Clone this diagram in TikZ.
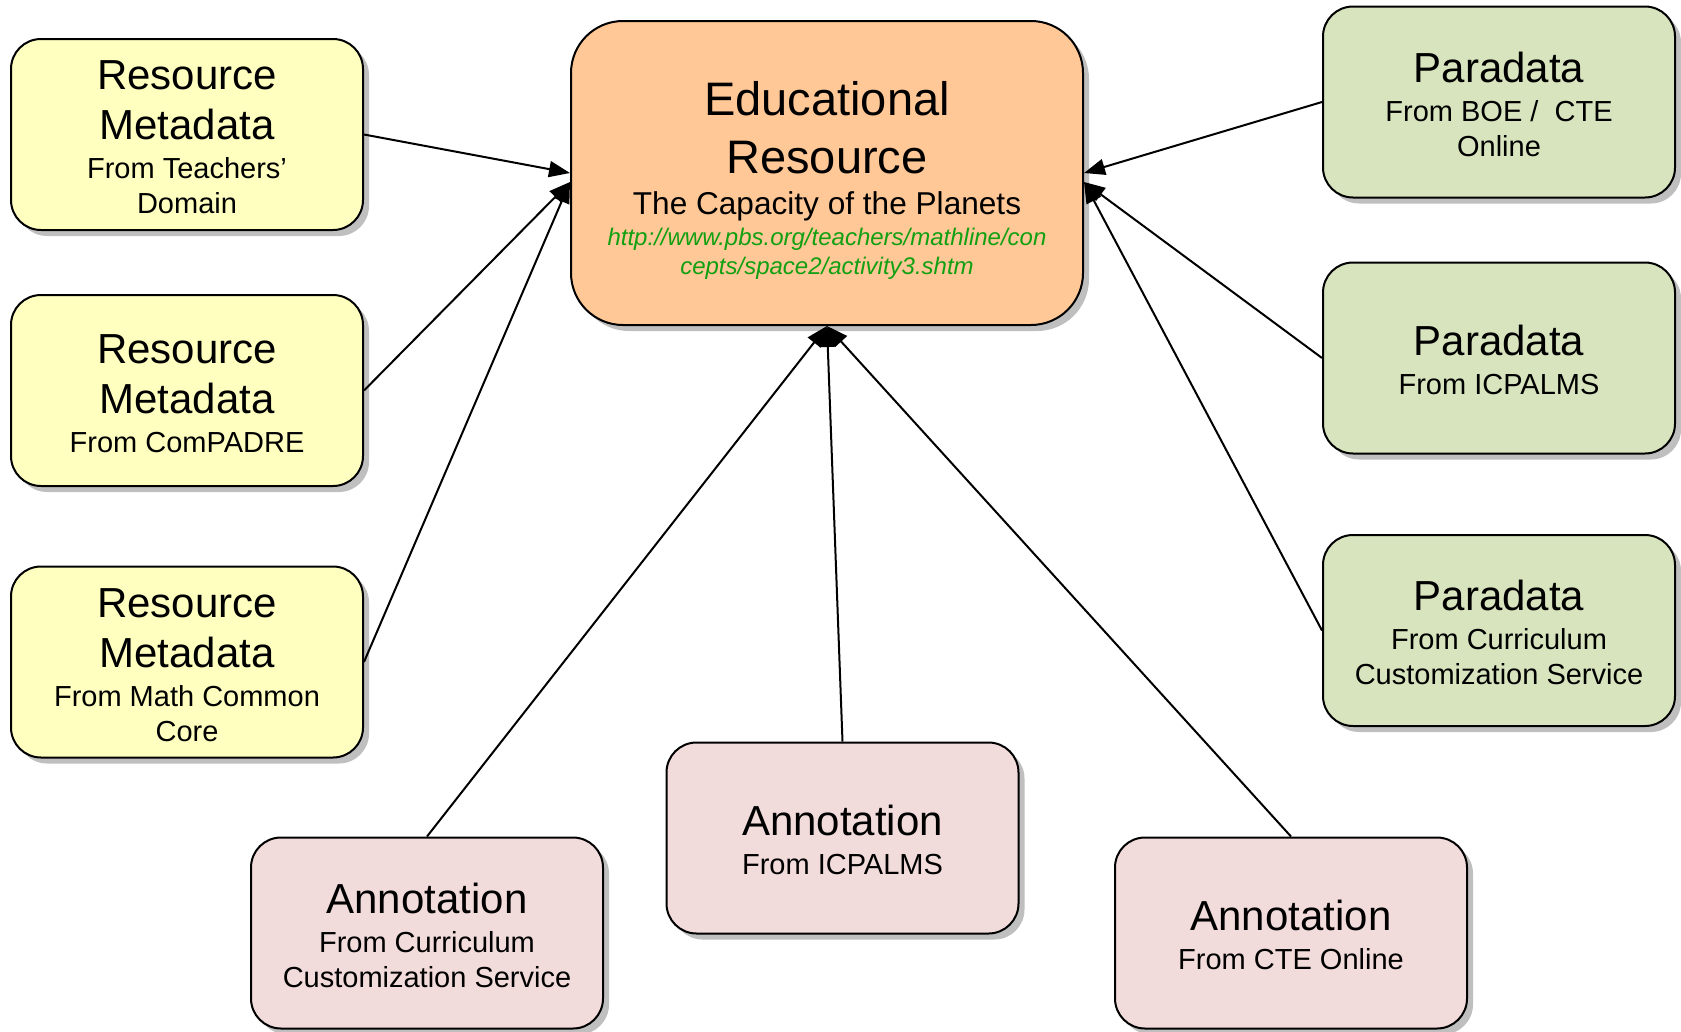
\documentclass[tikz,border=0pt]{standalone}
\usepackage{fontspec}
\setmainfont{Liberation Sans}
\usetikzlibrary{arrows.meta,shadows,calc}
\definecolor{cyel}{HTML}{FFFFC0}
\definecolor{cgreen}{HTML}{D7E4BD}
\definecolor{cpink}{HTML}{F2DCDB}
\definecolor{corange}{HTML}{FFC896}
\definecolor{urlgreen}{HTML}{12A012}
\newcommand\fixsp{\spaceskip=\fontdimen2\font\relax\xspaceskip=\spaceskip\relax}
\newcommand\bigtxt{\fontsize{42}{50}\selectfont\fixsp}
\newcommand\subtxt{\fontsize{29}{35}\selectfont\fixsp}
\newcommand\ttltxt{\fontsize{47}{58}\selectfont\fixsp}
\newcommand\captxt{\fontsize{31.6}{41}\selectfont\fixsp}
\newcommand\urltxt{\fontsize{24}{29}\selectfont\itshape\fixsp\color{urlgreen}}
\newcommand\topgap[1]{\par\vspace*{#1}}
\begin{document}
\begin{tikzpicture}[x=1pt,y=-1pt,
  box/.style={draw=black, line width=2pt, rounded corners=30pt,
    minimum width=352pt, minimum height=191pt, text width=340pt, inner sep=6pt,
    align=center,
    drop shadow={shadow xshift=6pt, shadow yshift=-6pt, fill=black!25, opacity=1}},
  yelbox/.style={box, fill=cyel},
  grnbox/.style={box, fill=cgreen},
  pnkbox/.style={box, fill=cpink},
  mainbox/.style={box, fill=corange, rounded corners=52pt,
    minimum width=512pt, minimum height=304pt, text width=490pt},
  conn/.style={draw=black, line width=2pt, -{Triangle[length=21pt,width=16pt]}}
]
\useasboundingbox (0,0) rectangle (1681,1031);

\node[mainbox] (C) at (827,173) {\topgap{-10pt}{\ttltxt Educational\\Resource\par}{\captxt The Capacity of the Planets\par}\vspace{2pt}{\urltxt http://www.pbs.org/teachers/mathline/con\\cepts/space2/activity3.shtm\par}};

\node[yelbox] (L1) at (187,134.5) {\topgap{-15pt}{\bigtxt Resource\\Metadata\par}\vspace{4pt}{\subtxt From Teachers'\\Domain\par}};
\node[yelbox] (L2) at (187,390.5) {\topgap{-15pt}{\bigtxt Resource\\Metadata\par}\vspace{4pt}{\subtxt From ComPADRE\par}};
\node[yelbox] (L3) at (187,662) {\topgap{-15pt}{\bigtxt Resource\\Metadata\par}\vspace{4pt}{\subtxt From Math Common\\Core\par}};

\node[grnbox] (R1) at (1499,102) {\topgap{-15pt}{\bigtxt Paradata\par}\vspace{4pt}{\subtxt From BOE /\ \ CTE\\Online\par}};
\node[grnbox] (R2) at (1499,358) {\topgap{-15pt}{\bigtxt Paradata\par}\vspace{4pt}{\subtxt From ICPALMS\par}};
\node[grnbox] (R3) at (1499,630.5) {\topgap{-15pt}{\bigtxt Paradata\par}\vspace{4pt}{\subtxt From Curriculum\\Customization Service\par}};

\node[pnkbox] (A1) at (427,933) {\topgap{-15pt}{\bigtxt Annotation\par}\vspace{4pt}{\subtxt From Curriculum\\Customization Service\par}};
\node[pnkbox] (A2) at (842.5,838) {\topgap{-15pt}{\bigtxt Annotation\par}\vspace{4pt}{\subtxt From ICPALMS\par}};
\node[pnkbox] (A3) at (1291,933) {\topgap{-15pt}{\bigtxt Annotation\par}\vspace{4pt}{\subtxt From CTE Online\par}};

\coordinate (inL1) at (C.west);
\coordinate (inL) at ($(C.west)+(0,9)$);
\coordinate (inR1) at (C.east);
\coordinate (inR) at ($(C.east)+(0,9)$);

\draw[conn] (L1.east) -- (inL1);
\draw[conn] (L2.east) -- (inL);
\draw[conn] (L3.east) -- (inL);
\draw[conn] (R1.west) -- (inR1);
\draw[conn] (R2.west) -- (inR);
\draw[conn] (R3.west) -- (inR);
\draw[conn] (A1.north) -- (C.south);
\draw[conn] (A2.north) -- (C.south);
\draw[conn] (A3.north) -- (C.south);
\end{tikzpicture}
\end{document}
